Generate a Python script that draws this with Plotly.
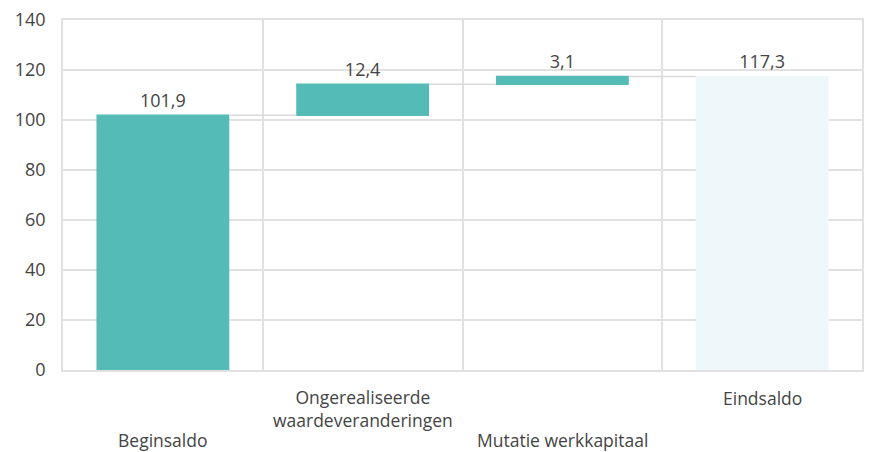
import plotly.graph_objects as go

categories = ["Beginsaldo", "Ongerealiseerde<br>waardeveranderingen", "Mutatie werkkapitaal", "Eindsaldo"]
values = [101.9, 12.4, 3.1, 117.3]
measures = ["relative", "relative", "relative", "absolute"]
label_shift = [-70, -38.5, -70, -27.5]

teal = "#55bbb6"
light = "#eef7f9"
grid = "#e1e1e1"
font_family = "'Open Sans', Lato, sans-serif"

x_pos = list(range(len(categories)))
texts = [f"{v:.1f}".replace(".", ",") for v in values]

fig = go.Figure(go.Waterfall(
    x=x_pos,
    y=values,
    measure=measures,
    text=texts,
    textposition="outside",
    textfont=dict(size=18, color="#444444", family=font_family),
    cliponaxis=False,
    width=0.665,
    increasing=dict(marker=dict(color=teal)),
    decreasing=dict(marker=dict(color=teal)),
    totals=dict(marker=dict(color=light)),
    connector=dict(line=dict(color="#d9d9d9", width=1.5)),
    hoverinfo="skip",
))

annotations = []
for i, (c, s) in enumerate(zip(categories, label_shift)):
    annotations.append(dict(
        x=i, y=0, xref="x", yref="paper", text=c, showarrow=False,
        yanchor="middle", xanchor="center", yshift=s,
        font=dict(size=17.5, color="#444444", family=font_family),
    ))

fig.update_layout(
    width=871, height=452,
    margin=dict(l=63, r=7, t=17, b=82),
    paper_bgcolor="white", plot_bgcolor="white",
    showlegend=False,
    separators=",.",
    annotations=annotations,
    font=dict(family=font_family),
)
fig.update_xaxes(
    range=[-0.5, 3.5],
    tickvals=[-0.5, 0.5, 1.5, 2.5, 3.5],
    showticklabels=False,
    showgrid=True, gridcolor=grid, gridwidth=1.5,
    showline=True, mirror=True, linecolor=grid, linewidth=1.5,
    zeroline=False, ticks="",
)
fig.update_yaxes(
    range=[0, 140], dtick=20,
    showgrid=True, gridcolor=grid, gridwidth=1.5,
    showline=True, mirror=True, linecolor=grid, linewidth=1.5,
    zeroline=False, ticks="",
    tickfont=dict(size=18, color="#444444", family=font_family),
    ticklabelstandoff=12,
)

fig.write_html(
    "out.html",
    config={"displayModeBar": False},
    post_script="document.body.style.margin='0';document.body.style.overflow='hidden';",
)
